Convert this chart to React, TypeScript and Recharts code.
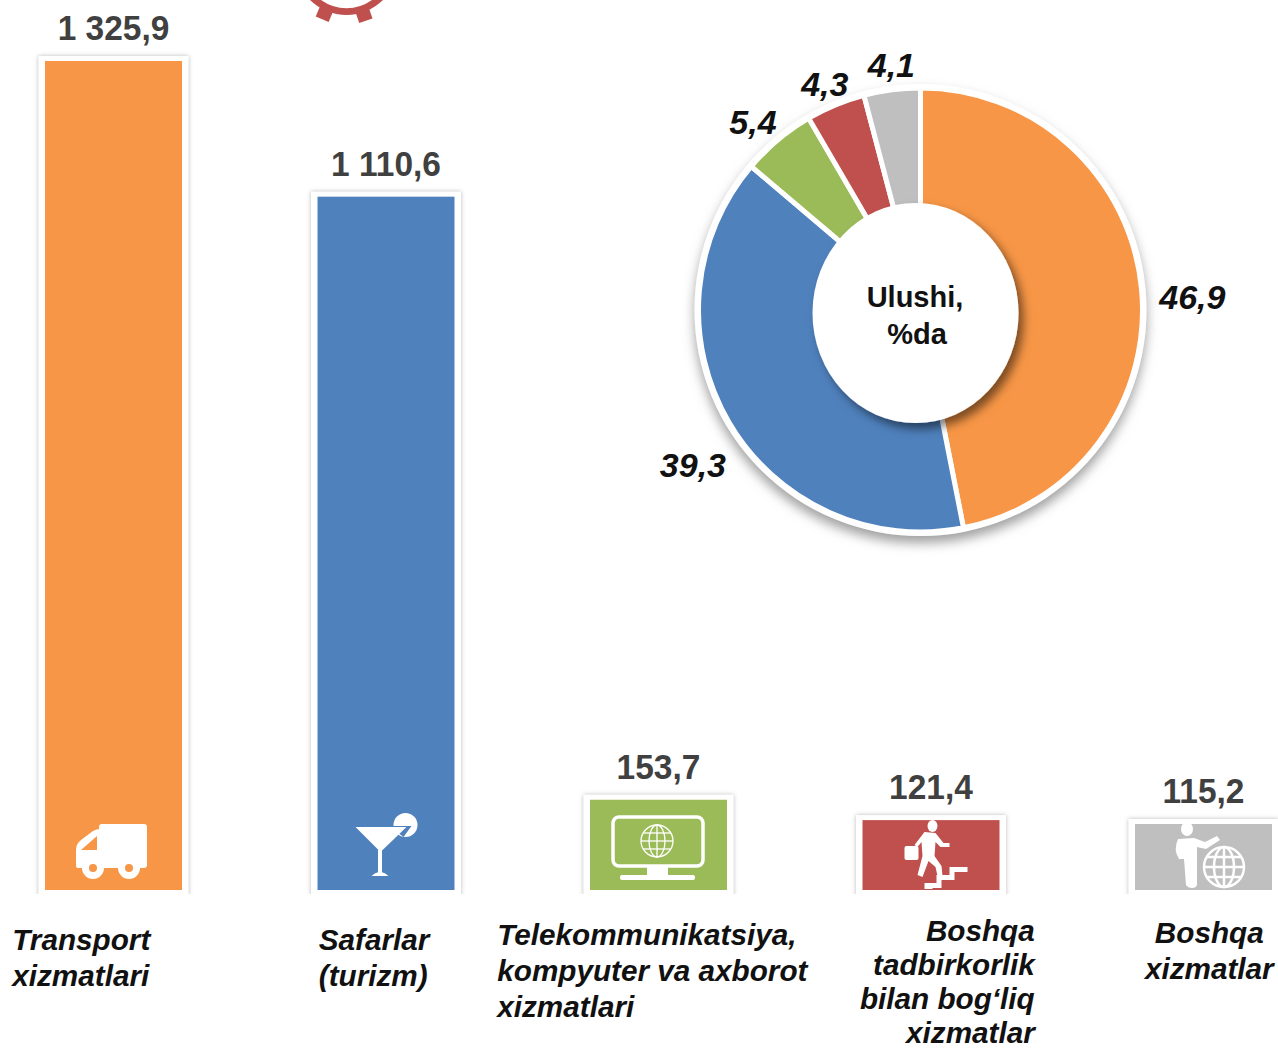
import { BarChart, Bar, XAxis, YAxis, LabelList, PieChart, Pie, Cell } from 'recharts'

const CATEGORIES = [
  'Transport xizmatlari',
  'Safarlar (turizm)',
  'Telekommunikatsiya, kompyuter va axborot xizmatlari',
  'Boshqa tadbirkorlik bilan bog‘liq xizmatlar',
  'Boshqa xizmatlar',
]
const CATEGORY_LINES = [
  ['Transport', 'xizmatlari'],
  ['Safarlar', '(turizm)'],
  ['Telekommunikatsiya,', 'kompyuter va axborot', 'xizmatlari'],
  ['Boshqa', 'tadbirkorlik', 'bilan bog‘liq', 'xizmatlar'],
  ['Boshqa', 'xizmatlar'],
]
const VOLUMES = [1325.9, 1110.6, 153.7, 121.4, 115.2]
const SHARES = [46.9, 39.3, 5.4, 4.3, 4.1]

const COLORS = ['#F79646', '#4F81BD', '#9BBB59', '#C0504D', '#BFBFBF']
const FONT = '"Liberation Sans", Arial, sans-serif'

// x offset from band centre, first baseline, line step, text anchor
const TICK_LAYOUT = [
  { dx: -101, y: 950, step: 36, anchor: 'start' },
  { dx: -67, y: 950, step: 36, anchor: 'start' },
  { dx: -161, y: 945, step: 36, anchor: 'start' },
  { dx: 104, y: 941, step: 34, anchor: 'end' },
  { dx: 6, y: 943, step: 36, anchor: 'middle' },
]
const LABEL_NUDGE = [[23, 23], [-12, 40], [-7, 16], [0, 17], [3, 15]]

const barData = CATEGORIES.map((name, i) => ({ name, value: VOLUMES[i] }))
const pieData = CATEGORIES.map((name, i) => ({ name, value: SHARES[i] }))

const fmt = (v: number) => {
  const [a, b] = v.toFixed(1).split('.')
  return `${a.replace(/\B(?=(\d{3})+$)/g, ' ')},${b}`
}

function Truck() {
  return (
    <g fill="#fff">
      <rect x={54} y={-66} width={48} height={44} rx={3} />
      <path d="M31,-24 L31,-40 Q31,-46 36,-50 L48,-59 Q51,-61 56,-61 L56,-22 L34,-22 Q31,-22 31,-24 Z" />
      <path d="M36,-40 L52,-54 L52,-40 Z" fill={COLORS[0]} />
      <circle cx={48} cy={-22} r={11} />
      <circle cx={84} cy={-22} r={11} />
      <circle cx={48} cy={-22} r={4} fill={COLORS[0]} />
      <circle cx={84} cy={-22} r={4} fill={COLORS[0]} />
    </g>
  )
}

function Cocktail() {
  return (
    <g fill="#fff">
      <circle cx={88} cy={-65} r={12} />
      <path d="M72,-64 L94,-64 L86,-53 Z" fill={COLORS[1]} />
      <path d="M38,-63 L89,-63 L63,-38 Z" />
      <rect x={60.5} y={-40} width={4} height={25} />
      <path d="M54,-14 Q57,-17 61,-18 L64,-18 Q68,-17 71,-14 Z" />
    </g>
  )
}

function Monitor() {
  return (
    <g>
      <rect x={23} y={-73} width={90} height={49} rx={6} fill="none" stroke="#fff" strokeWidth={3.5} />
      <rect x={57} y={-24} width={21} height={10} fill="#fff" />
      <rect x={30} y={-15} width={75} height={5} rx={2} fill="#fff" />
      <g fill="none" stroke="#fff" strokeWidth={1.3}>
        <circle cx={67} cy={-49} r={16} />
        <ellipse cx={67} cy={-49} rx={8} ry={16} />
        <line x1={67} y1={-65} x2={67} y2={-33} />
        <line x1={51} y1={-49} x2={83} y2={-49} />
        <line x1={53} y1={-57} x2={81} y2={-57} />
        <line x1={53} y1={-41} x2={81} y2={-41} />
      </g>
    </g>
  )
}

function Runner() {
  return (
    <g fill="#fff">
      <ellipse cx={70} cy={-64} rx={5} ry={6} />
      <path d="M62,-58 L73,-57 L81,-47 L87,-47 L87,-43 L78,-43 L73,-48 L72,-34 L79,-24 L80,-14 L75,-14 L73,-23 L66,-29 L60,-13 L55,-15 L60,-34 L59,-48 L55,-43 L52,-45 Z" />
      <rect x={42} y={-44} width={14} height={14} rx={2} />
      <path d="M62,-1 L62,-7 L74,-7 L74,-15 L87,-15 L87,-23 L105,-23 L105,-18 L92,-18 L92,-10 L79,-10 L79,-2 L70,-2 L70,-1 Z" />
    </g>
  )
}

function Consultant() {
  return (
    <g>
      <ellipse cx={52} cy={-61} rx={6} ry={7} fill="#fff" />
      <path d="M43,-51 L59,-52 L70,-48 L82,-54 L85,-50 L71,-41 L62,-43 L62,-5 Q61,-2 57,-2 Q53,-2 51,-5 L49,-31 L44,-31 Q38,-40 43,-51 Z" fill="#fff" />
      <g fill="none" stroke="#fff" strokeWidth={2.5}>
        <circle cx={89} cy={-23} r={20} />
        <ellipse cx={89} cy={-23} rx={10} ry={20} />
        <line x1={89} y1={-43} x2={89} y2={-3} />
        <line x1={69} y1={-23} x2={109} y2={-23} />
        <line x1={72} y1={-33} x2={106} y2={-33} />
        <line x1={72} y1={-13} x2={106} y2={-13} />
      </g>
    </g>
  )
}

const ICONS = [Truck, Cocktail, Monitor, Runner, Consultant]

function FramedBar(props: any) {
  const { x, y, width, height, index } = props
  const base = y + height
  const Icon = ICONS[index]
  return (
    <g>
      <clipPath id={`frame-${index}`}>
        <rect x={x - 20} y={y - 20} width={width + 40} height={height + 24} />
      </clipPath>
      <g clipPath={`url(#frame-${index})`}>
        <rect x={x - 6.5} y={y - 5} width={width + 13} height={height + 30} fill="#fff" filter="url(#barEdge)" />
      </g>
      <rect x={x} y={y} width={width} height={height} fill={COLORS[index]} />
      <g transform={`translate(${x},${base})`}>
        <Icon />
      </g>
    </g>
  )
}

function ValueLabel(props: any) {
  const { x, y, width, value } = props
  const cx = x + width / 2
  const by = y - 21
  // the source digits are drawn a little taller than they are wide
  return (
    <text
      transform={`translate(${cx},${by}) scale(0.93,1)`}
      textAnchor="middle"
      fontFamily={FONT}
      fontWeight={700}
      fontSize={36}
      fill="#404040"
    >
      {fmt(value)}
    </text>
  )
}

function CategoryTick(props: any) {
  const { x, index } = props
  const l = TICK_LAYOUT[index]
  return (
    <text textAnchor={l.anchor} fontFamily={FONT} fontWeight={700} fontStyle="italic" fontSize={29.7} fill="#111">
      {CATEGORY_LINES[index].map((line, i) => (
        <tspan key={i} x={x + l.dx} y={l.y + i * l.step}>{line}</tspan>
      ))}
    </text>
  )
}

function ShareLabel(props: any) {
  const { cx, cy, midAngle, index, value } = props
  const a = (midAngle * Math.PI) / 180
  const [dx, dy] = LABEL_NUDGE[index]
  return (
    <text
      x={cx + 250 * Math.cos(a) + dx}
      y={cy - 250 * Math.sin(a) + dy}
      textAnchor="middle"
      fontFamily={FONT}
      fontWeight={700}
      fontStyle="italic"
      fontSize={34}
      fill="#111"
    >
      {value.toFixed(1).replace('.', ',')}
    </text>
  )
}

const LAYER = { position: 'absolute', left: 0, top: 0 } as const

export default function App() {
  return (
    <div style={{ position: 'absolute', left: 0, top: 0, width: 1278, height: 1049, overflow: 'hidden', background: '#fff' }}>
      <svg width={1278} height={1049} style={LAYER}>
        <defs>
          <filter id="barEdge" x="-20%" y="-20%" width="140%" height="140%">
            <feDropShadow dx={0} dy={0} stdDeviation={2} floodColor="#888" floodOpacity={0.6} />
          </filter>
          <filter id="ringShadow" x="-20%" y="-20%" width="140%" height="140%">
            <feDropShadow dx={0} dy={7} stdDeviation={6} floodColor="#777" floodOpacity={0.7} />
          </filter>
        </defs>
        {/* gear cut by the top edge */}
        <g fill="#C0504D">
          <path d="M310,0 A52,52 0 0 0 383,0 L372,0 A44,44 0 0 1 321,0 Z" />
          <rect x={-7} y={48} width={14} height={13} transform="translate(346 -37) rotate(23)" />
          <rect x={-7} y={48} width={14} height={13} transform="translate(346 -37) rotate(-19)" />
        </g>
        <circle cx={920.5} cy={310} r={226} fill="#fff" filter="url(#ringShadow)" />
      </svg>

      <div style={{ position: 'absolute', left: -23, top: 0 }}>
        <BarChart width={1362.5} height={1049} data={barData} margin={{ top: 61, right: 0, bottom: 0, left: 0 }}>
          <YAxis hide domain={[10.5, 1325.9]} />
          <XAxis
            dataKey="name"
            height={159}
            axisLine={false}
            tickLine={false}
            interval={0}
            tick={<CategoryTick />}
          />
          <Bar dataKey="value" barSize={137} isAnimationActive={false} shape={<FramedBar />}>
            <LabelList dataKey="value" content={<ValueLabel />} />
          </Bar>
        </BarChart>
      </div>

      <div style={LAYER}>
        <PieChart width={1278} height={1049} margin={{ top: 0, right: 0, bottom: 0, left: 0 }}>
          <Pie
            data={pieData}
            dataKey="value"
            cx={920.5}
            cy={310}
            outerRadius={222}
            innerRadius={90}
            startAngle={90}
            endAngle={-270}
            stroke="#fff"
            strokeWidth={5}
            isAnimationActive={false}
            labelLine={false}
            label={<ShareLabel />}
          >
            {pieData.map((_, i) => (
              <Cell key={i} fill={COLORS[i]} />
            ))}
          </Pie>
        </PieChart>
      </div>

      <svg width={1278} height={1049} style={{ ...LAYER, pointerEvents: 'none' }}>
        <defs>
          <filter id="holeShadow" x="-30%" y="-30%" width="160%" height="160%">
            <feDropShadow dx={5} dy={6} stdDeviation={5} floodColor="#000" floodOpacity={0.5} />
          </filter>
        </defs>
        <ellipse cx={915.5} cy={313} rx={103} ry={110} fill="#fff" filter="url(#holeShadow)" />
        <text textAnchor="middle" fontFamily={FONT} fontWeight={700} fontSize={29} fill="#111">
          <tspan x={915} y={307}>Ulushi,</tspan>
          <tspan x={917} y={344}>%da</tspan>
        </text>
      </svg>
    </div>
  )
}
